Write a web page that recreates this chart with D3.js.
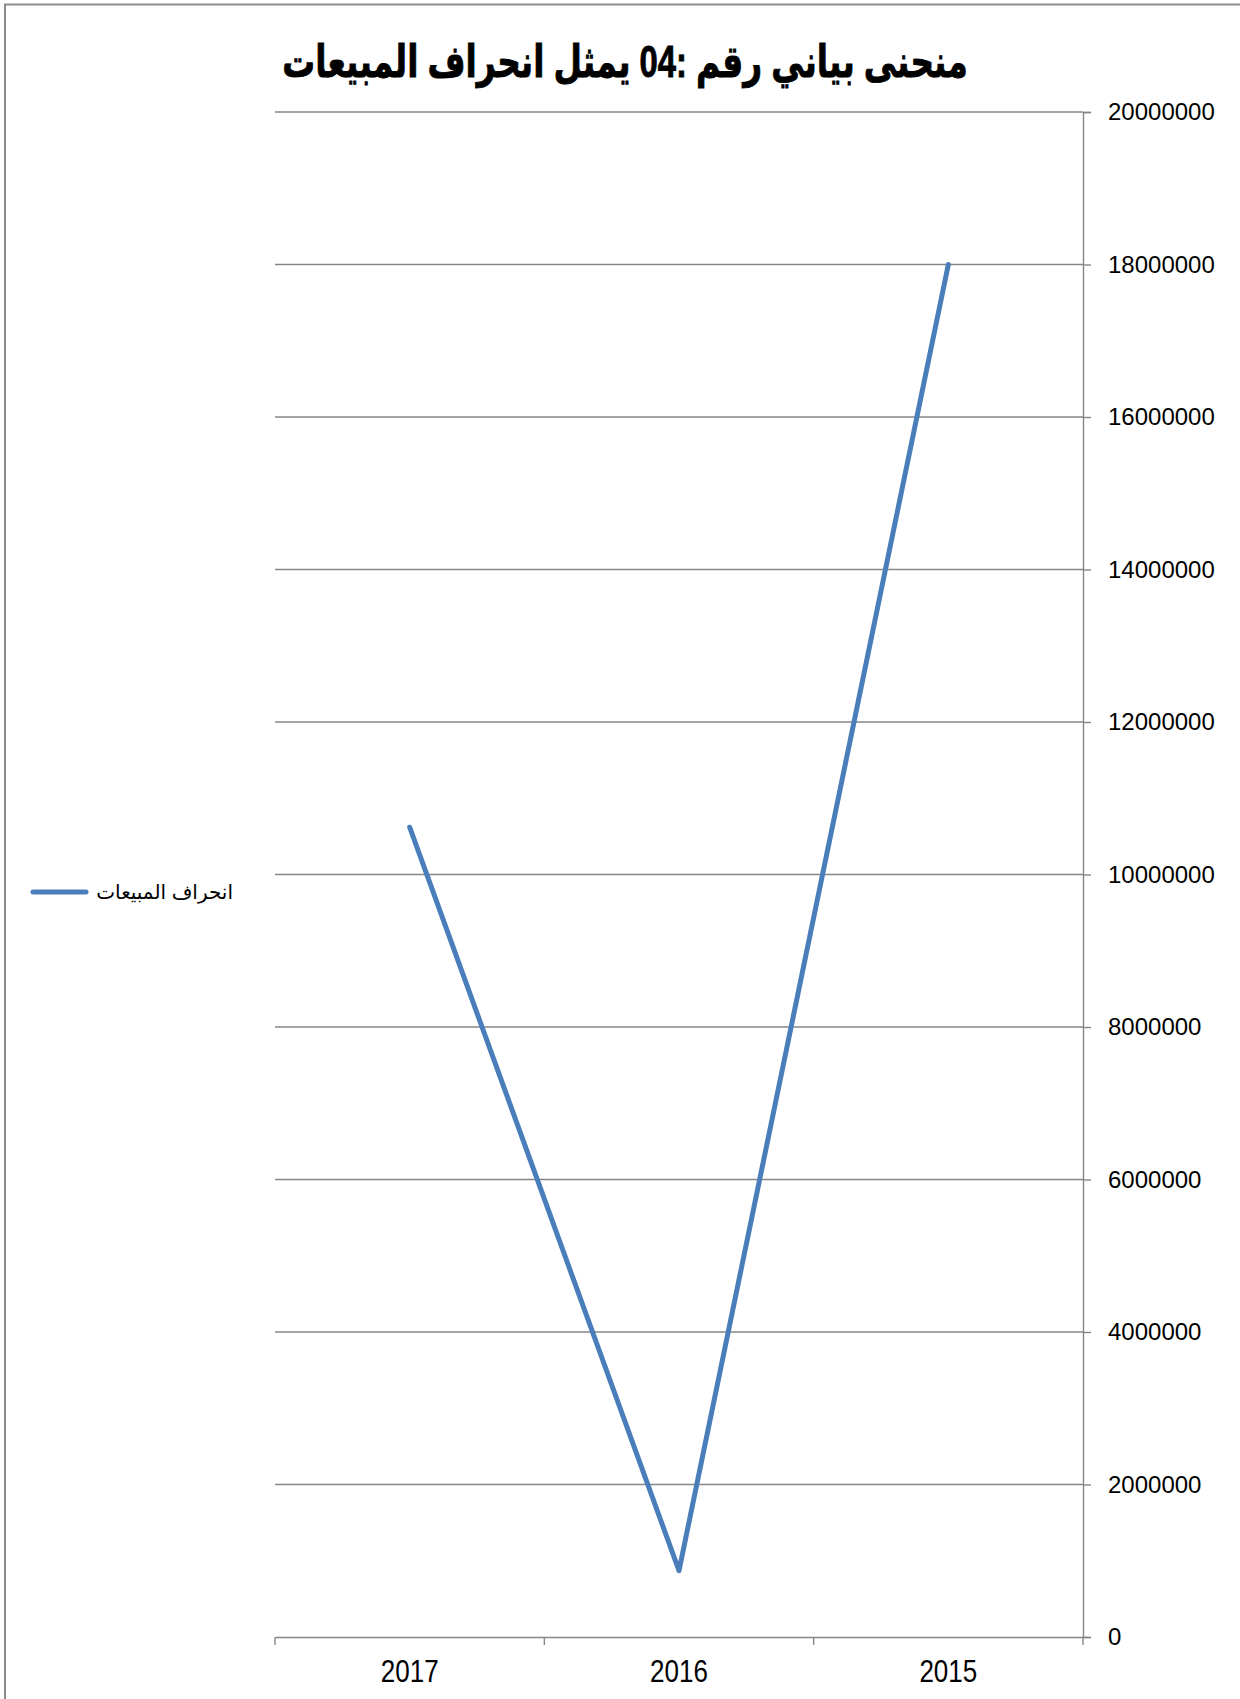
<!DOCTYPE html>
<html>
<head>
<meta charset="utf-8">
<script src="https://cdn.jsdelivr.net/npm/d3@7"></script>
<style>
  html, body { margin: 0; padding: 0; background: #fff; }
  svg { display: block; }
</style>
</head>
<body>
<svg id="chart" width="1240" height="1699"></svg>
<script>
// Sales deviation by year (values in currency units)
const years = ["2017", "2016", "2015"];
const deviation = [10620000, 870000, 18000000];
const yTicks = [0, 2000000, 4000000, 6000000, 8000000, 10000000, 12000000, 14000000, 16000000, 18000000, 20000000];
const chartTitle = "منحنى بياني رقم :04 يمثل انحراف المبيعات";
const seriesName = "انحراف المبيعات";

const W = 1240, H = 1699;
const plot = { left: 275, right: 1083, top: 112, bottom: 1637 };
const gridColor = "#868686";
const lineColor = "#4a7ebb";

const svg = d3.select("#chart");

// outer frame (top and left edges visible)
svg.append("path")
  .attr("d", `M5,${H} L5,4.5 L${W},4.5`)
  .attr("fill", "none")
  .attr("stroke", "#8c8c8c")
  .attr("stroke-width", 2);

const x = d3.scaleBand().domain(years).range([plot.left, plot.right]).padding(0);
const y = d3.scaleLinear().domain([0, 20000000]).range([plot.bottom, plot.top]);

// horizontal gridlines
svg.append("g")
  .selectAll("line")
  .data(yTicks.slice(1))
  .join("line")
  .attr("x1", plot.left).attr("x2", plot.right)
  .attr("y1", d => y(d)).attr("y2", d => y(d))
  .attr("stroke", gridColor).attr("stroke-width", 1.4);

// value axis on the right
const yAxis = svg.append("g")
  .attr("transform", `translate(${plot.right},0)`)
  .call(d3.axisRight(y).tickValues(yTicks).tickFormat(d3.format("d")).tickSizeOuter(0).tickSize(8).tickPadding(17));
yAxis.select(".domain").attr("stroke", gridColor).attr("stroke-width", 1.4);
yAxis.selectAll(".tick line").attr("stroke", gridColor).attr("stroke-width", 1.4);
yAxis.selectAll(".tick text")
  .attr("fill", "#000")
  .style("font-family", "'Liberation Sans', Arial, sans-serif")
  .style("font-size", "24px");

// category axis at the bottom
const xAxis = svg.append("g")
  .attr("transform", `translate(0,${plot.bottom})`)
  .call(d3.axisBottom(x).tickSize(0).tickFormat(""));
xAxis.select(".domain").attr("stroke", gridColor).attr("stroke-width", 1.4);
xAxis.selectAll(".tick").remove();

// category boundary ticks
const bounds = years.map(d => x(d)).concat([plot.right]);
svg.append("g")
  .selectAll("line")
  .data(bounds)
  .join("line")
  .attr("x1", d => d).attr("x2", d => d)
  .attr("y1", plot.bottom).attr("y2", plot.bottom + 8)
  .attr("stroke", gridColor).attr("stroke-width", 1.4);

// category labels (slightly condensed)
svg.append("g")
  .selectAll("text")
  .data(years)
  .join("text")
  .attr("transform", d => `translate(${x(d) + x.bandwidth() / 2},1682) scale(0.84,1)`)
  .attr("text-anchor", "middle")
  .style("font-family", "'Liberation Sans', Arial, sans-serif")
  .style("font-size", "31px")
  .attr("fill", "#000")
  .text(d => d);

// series line
const line = d3.line()
  .x((d, i) => x(years[i]) + x.bandwidth() / 2)
  .y(d => y(d));
svg.append("path")
  .datum(deviation)
  .attr("d", line)
  .attr("fill", "none")
  .attr("stroke", lineColor)
  .attr("stroke-width", 5)
  .attr("stroke-linecap", "round")
  .attr("stroke-linejoin", "round");

// title (condensed bold)
svg.append("text")
  .attr("transform", "translate(625,77) scale(0.8,1.08)")
  .attr("text-anchor", "middle")
  .attr("direction", "rtl")
  .style("font-family", "'Liberation Sans', 'DejaVu Sans', sans-serif")
  .style("font-weight", "bold")
  .style("font-size", "41px")
  .style("stroke", "#000")
  .style("stroke-width", 0.8)
  .attr("fill", "#000")
  .text(chartTitle);

// legend
svg.append("line")
  .attr("x1", 33).attr("x2", 86)
  .attr("y1", 892).attr("y2", 892)
  .attr("stroke", lineColor)
  .attr("stroke-width", 5)
  .attr("stroke-linecap", "round");
svg.append("text")
  .attr("x", 233).attr("y", 899)
  .attr("text-anchor", "start")
  .attr("direction", "rtl")
  .style("font-family", "'Liberation Sans', 'DejaVu Sans', sans-serif")
  .style("font-size", "20px")
  .attr("fill", "#000")
  .text(seriesName);
</script>
</body>
</html>
